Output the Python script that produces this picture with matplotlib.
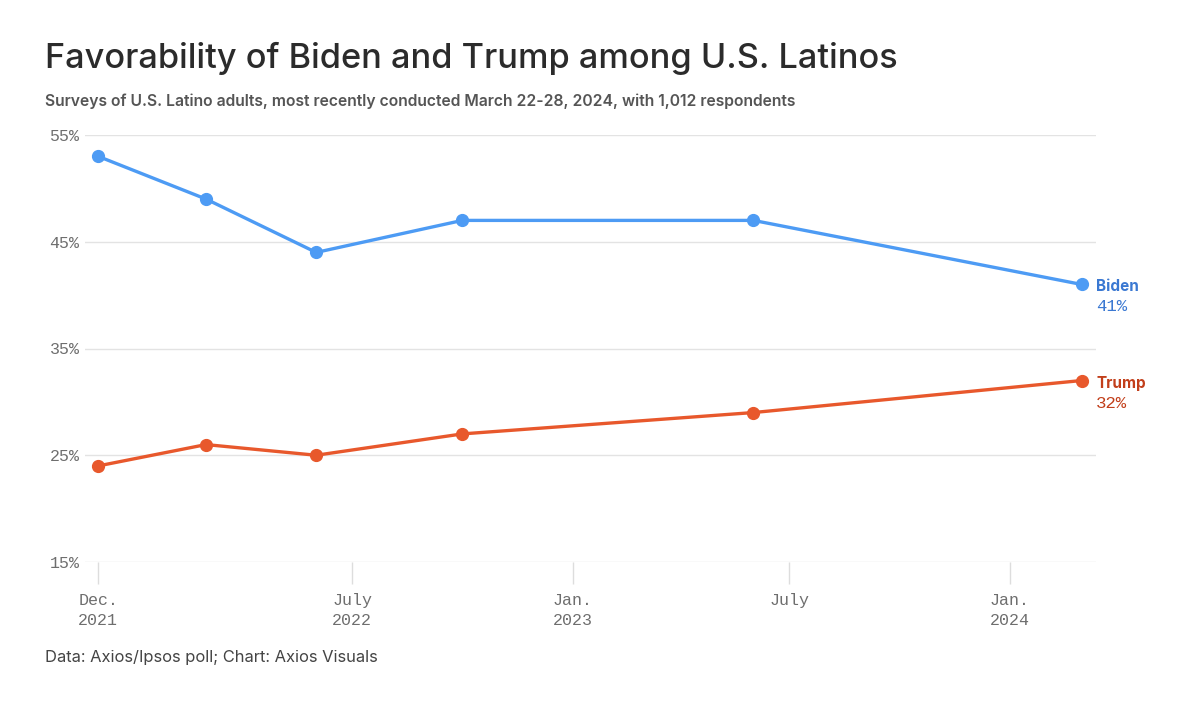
"""Axios-style line chart: Biden vs Trump favorability among U.S. Latinos."""

import matplotlib
matplotlib.use("Agg")
import matplotlib.dates as mdates
import matplotlib.pyplot as plt
import pandas as pd

# --- data ---
poll_dates = ["2021-12-01", "2022-03-01", "2022-06-01", "2022-10-01",
              "2023-06-01", "2024-03-01"]
biden = [53, 49, 44, 47, 47, 41]
trump = [24, 26, 25, 27, 29, 32]

tick_dates = ["2021-12-01", "2022-07-01", "2023-01-01", "2023-07-01", "2024-01-01"]
tick_labels = ["Dec.\n2021", "July\n2022", "Jan.\n2023", "July", "Jan.\n2024"]
y_ticks = [15, 25, 35, 45, 55]

BIDEN_LINE, BIDEN_TEXT = "#4d9bf4", "#3a78d2"
TRUMP_LINE, TRUMP_TEXT = "#e8582c", "#c23f1b"
SANS = ["Inter", "DejaVu Sans"]
MONO = ["Liberation Mono", "DejaVu Sans Mono"]

x = pd.to_datetime(poll_dates)

fig = plt.figure(figsize=(12, 7.03), dpi=100)
ax = fig.add_axes([85 / 1200, 141 / 703, 1011 / 1200, 427 / 703])

for vals, col in ((biden, BIDEN_LINE), (trump, TRUMP_LINE)):
    ax.plot(x, vals, color=col, lw=2.4, marker="o", ms=8.5, zorder=3,
            solid_capstyle="round")

ax.set_xlim(pd.Timestamp("2021-11-20"), pd.Timestamp("2024-03-13"))
ax.set_ylim(15, 55)
ax.set_yticks(y_ticks)
ax.set_yticklabels([f"{v}%" for v in y_ticks])
ax.set_xticks(mdates.date2num(pd.to_datetime(tick_dates)))
ax.set_xticklabels(tick_labels, linespacing=1.45)

ax.grid(axis="y", color="#e3e3e3", lw=1)
ax.set_axisbelow(True)
for s in ax.spines.values():
    s.set_visible(False)
ax.tick_params(axis="y", length=0, pad=4, labelsize=12, labelcolor="#6e6e6e")
ax.tick_params(axis="x", length=16, width=1, color="#dddddd", pad=6,
               labelsize=12, labelcolor="#6e6e6e")
for lab in ax.get_xticklabels() + ax.get_yticklabels():
    lab.set_family(MONO)

# end labels
for vals, col, name in ((biden, BIDEN_TEXT, "Biden"), (trump, TRUMP_TEXT, "Trump")):
    ax.annotate(name, (x[-1], vals[-1]), xytext=(10.5, -1.8), textcoords="offset points",
                ha="left", va="center", color=col, fontsize=11, fontweight="bold",
                family=SANS, annotation_clip=False)
    ax.annotate(f"{vals[-1]}%", (x[-1], vals[-1]), xytext=(10.5, -16.2),
                textcoords="offset points", ha="left", va="center", color=col,
                fontsize=12.5, family=MONO, annotation_clip=False)

fig.text(45 / 1200, 1 - 68 / 703, "Favorability of Biden and Trump among U.S. Latinos",
         fontsize=24.7, fontweight="medium", color="#2b2b2b", family=SANS, va="baseline")
fig.text(45 / 1200, 1 - 106 / 703,
         "Surveys of U.S. Latino adults, most recently conducted March 22-28, 2024, "
         "with 1,012 respondents",
         fontsize=11.3, fontweight="semibold", color="#555555", family=SANS, va="baseline")
fig.text(45 / 1200, 1 - 662 / 703, "Data: Axios/Ipsos poll; Chart: Axios Visuals",
         fontsize=11.9, color="#444444", family=SANS, va="baseline")

fig.savefig("out.png", dpi=100)
